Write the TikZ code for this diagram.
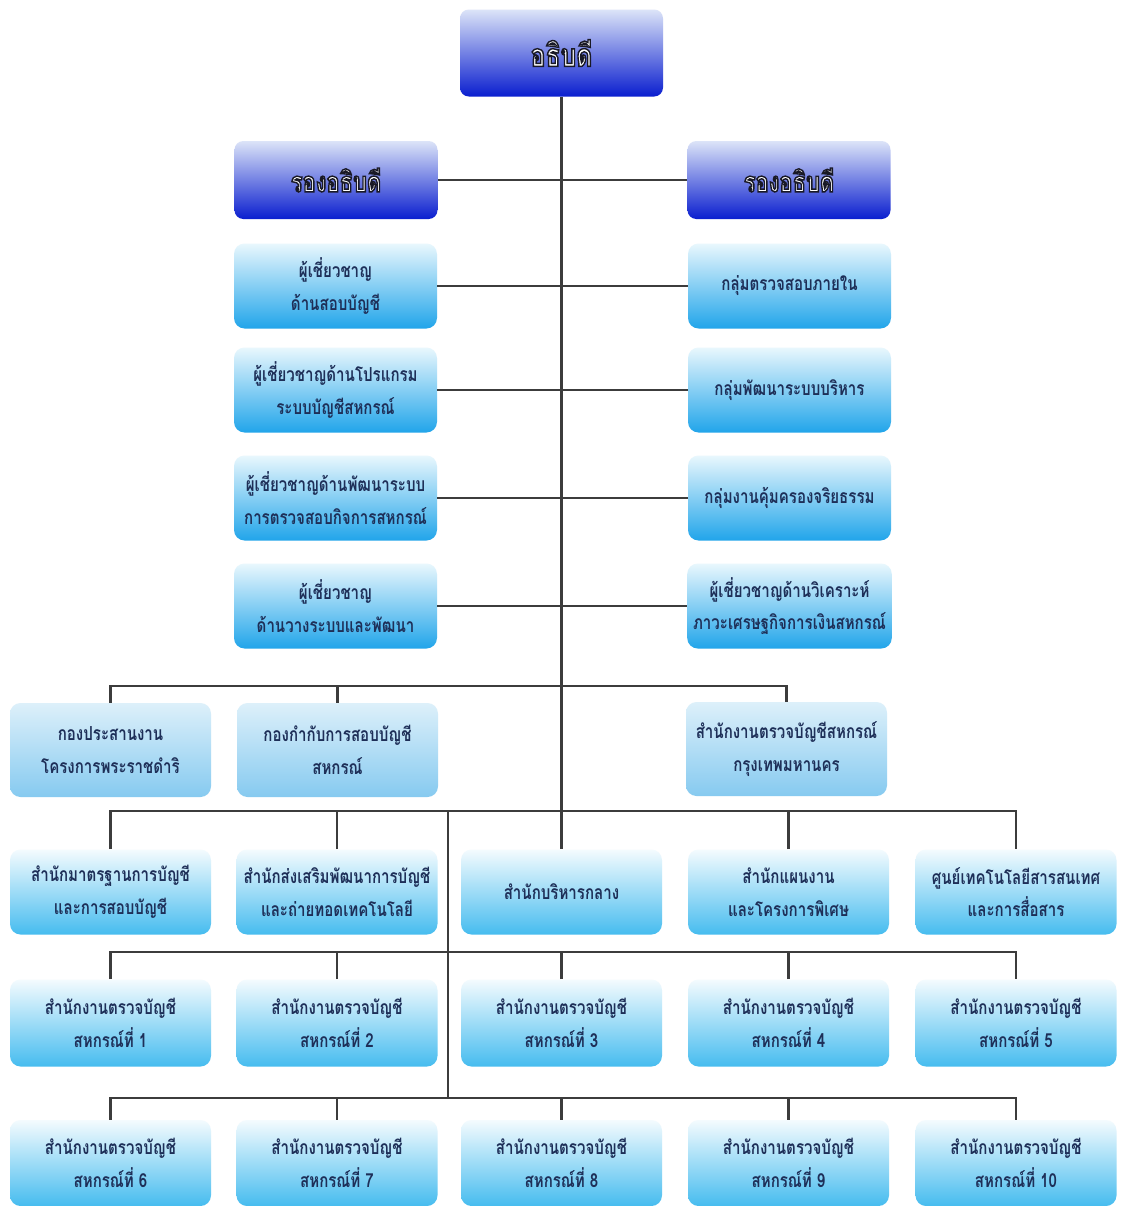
\documentclass[tikz,border=0pt]{standalone}
\usepackage{fontspec}
\newfontfamily\thai[Script=Thai, FakeStretch=0.78]{Loma}
\definecolor{linegray}{HTML}{3C3C3C}
\definecolor{boxtext}{HTML}{1E2F58}
\definecolor{headtop}{HTML}{DCE4F8}
\definecolor{headmid}{HTML}{1A3BE6}
\definecolor{headbot}{HTML}{0A1ECF}
\definecolor{celltop}{HTML}{E9F7FD}
\definecolor{cellbot}{HTML}{21A5EA}
\definecolor{paletop}{HTML}{DDF0FA}
\definecolor{palebot}{HTML}{86CAF0}
\definecolor{lowtop}{HTML}{F4FBFE}
\definecolor{lowbot}{HTML}{46BCEF}
% white letters with a dark outline (fill and stroke render mode)
\newcommand{\headtext}[1]{{\color{white}\special{pdf:literal direct 2 Tr 0.8 w 0.1 0.1 0.15 RG}#1\special{pdf:literal direct 0 Tr}}}

\begin{document}
\begin{tikzpicture}[
    link/.style={line width=1.3pt, draw=linegray},
    boss/.style={rectangle, rounded corners=5pt,
        top color=headtop, middle color=headmid, bottom color=headbot,
        minimum width=4.06cm, font=\thai\bfseries\fontsize{16}{18}\selectfont},
    unit/.style={rectangle, rounded corners=6pt, align=center,
        top color=celltop, bottom color=cellbot, text=boxtext,
        minimum width=4.06cm, minimum height=1.7cm,
        font=\thai\bfseries\fontsize{11}{18.5}\selectfont},
    division/.style={unit, top color=paletop, bottom color=palebot,
        minimum width=4.02cm, minimum height=1.88cm},
    office/.style={unit, top color=lowtop, bottom color=lowbot,
        minimum width=4.02cm, minimum height=1.72cm}
]
    \useasboundingbox (0,0) rectangle (22.46,-24.12);
    \fill[white] (0,0) rectangle (22.46,-24.12);

    % director and deputies
    \node[boss, minimum height=1.74cm, font=\thai\bfseries\fontsize{18}{20}\selectfont] (dg) at (11.23,-1.06) {\headtext{อธิบดี}};
    \node[boss, minimum height=1.56cm] (depl) at (6.72,-3.60) {\headtext{รองอธิบดี}};
    \node[boss, minimum height=1.56cm] (depr) at (15.78,-3.60) {\headtext{รองอธิบดี}};

    % experts and groups
    \node[unit] (exa) at (6.71,-5.72) {ผู้เชี่ยวชาญ\\ด้านสอบบัญชี};
    \node[unit] (exb) at (6.71,-7.80) {ผู้เชี่ยวชาญด้านโปรแกรม\\ระบบบัญชีสหกรณ์};
    \node[unit] (exc) at (6.71,-9.96) {ผู้เชี่ยวชาญด้านพัฒนาระบบ\\การตรวจสอบกิจการสหกรณ์};
    \node[unit] (exd) at (6.71,-12.12) {ผู้เชี่ยวชาญ\\ด้านวางระบบและพัฒนา};
    \node[unit] (gpa) at (15.79,-5.72) {กลุ่มตรวจสอบภายใน};
    \node[unit] (gpb) at (15.79,-7.80) {กลุ่มพัฒนาระบบบริหาร};
    \node[unit] (gpc) at (15.79,-9.96) {กลุ่มงานคุ้มครองจริยธรรม};
    \node[unit] (gpd) at (15.79,-12.12) {ผู้เชี่ยวชาญด้านวิเคราะห์\\ภาวะเศรษฐกิจการเงินสหกรณ์};

    % divisions
    \node[division] (dva) at (2.21,-15.00) {กองประสานงาน\\โครงการพระราชดำริ};
    \node[division] (dvb) at (6.75,-15.00) {กองกำกับการสอบบัญชี\\สหกรณ์};
    \node[division] (dvc) at (15.73,-14.98) {สำนักงานตรวจบัญชีสหกรณ์\\กรุงเทพมหานคร};

    % bureaus
    \node[office, minimum height=1.7cm] (bua) at (2.21,-17.84) {สำนักมาตรฐานการบัญชี\\และการสอบบัญชี};
    \node[office, minimum height=1.7cm] (bub) at (6.74,-17.84) {สำนักส่งเสริมพัฒนาการบัญชี\\และถ่ายทอดเทคโนโลยี};
    \node[office, minimum height=1.7cm] (buc) at (11.23,-17.84) {สำนักบริหารกลาง};
    \node[office, minimum height=1.7cm] (bud) at (15.77,-17.84) {สำนักแผนงาน\\และโครงการพิเศษ};
    \node[office, minimum height=1.7cm] (bue) at (20.32,-17.84) {ศูนย์เทคโนโลยีสารสนเทศ\\และการสื่อสาร};

    % regional audit offices
    \foreach \n/\x in {1/2.21,2/6.74,3/11.23,4/15.77,5/20.32}{
        \node[office, minimum height=1.74cm] (ro\n) at (\x,-20.46) {สำนักงานตรวจบัญชี\\สหกรณ์ที่ \n};
    }
    \foreach \n/\m/\x in {6/1/2.21,7/2/6.74,8/3/11.23,9/4/15.77,10/5/20.32}{
        \node[office] (rt\m) at (\x,-23.26) {สำนักงานตรวจบัญชี\\สหกรณ์ที่ \n};
    }

    % connectors
    \draw[link] (dg.south) -- (buc.north);
    \draw[link] (depl.east) -- (depr.west);
    \draw[link] (exa.east) -- (gpa.west);
    \draw[link] (exb.east) -- (gpb.west);
    \draw[link] (exc.east) -- (gpc.west);
    \draw[link] (exd.east) -- (gpd.west);

    \draw[link] (dva.north) -- ++(0,0.34) -| (dvc.north);
    \draw[link] (dvb.north) -- ++(0,0.34);

    \draw[link] (bua.north) -- ++(0,0.76) -| (bue.north);
    \draw[link] (bub.north) -- ++(0,0.76);
    \draw[link] (bud.north) -- ++(0,0.76);

    \coordinate (spine) at (8.96,-16.24);
    \coordinate (spineend) at (8.96,-21.96);
    \draw[link] (spine) -- (spineend);

    \draw[link] (ro1.north) -- ++(0,0.55) -| (ro5.north);
    \draw[link] (rt1.north) -- ++(0,0.44) -| (rt5.north);
    \foreach \m in {2,3,4}{
        \draw[link] (ro\m.north) -- ++(0,0.55);
        \draw[link] (rt\m.north) -- ++(0,0.44);
    }
\end{tikzpicture}
\end{document}
